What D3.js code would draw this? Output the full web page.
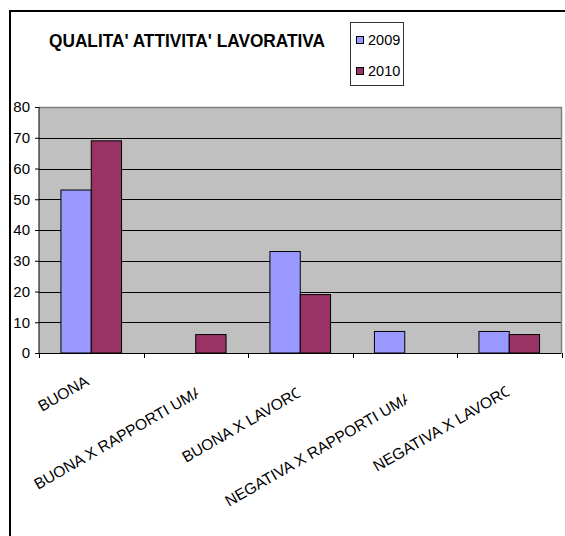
<!DOCTYPE html>
<html>
<head>
<meta charset="utf-8">
<script src="https://cdn.jsdelivr.net/npm/d3@7"></script>
<style>
  html, body { margin: 0; padding: 0; background: #fff; }
  svg { display: block; font-family: "Liberation Sans", Arial, sans-serif; }
</style>
</head>
<body>
<svg id="chart" width="565" height="536"></svg>
<script>
// ---- data ----
const title = "QUALITA' ATTIVITA' LAVORATIVA";
const categories = ["BUONA", "BUONA X RAPPORTI UMANI", "BUONA X LAVORO", "NEGATIVA X RAPPORTI UMANI", "NEGATIVA X LAVORO"];
const seriesNames = ["2009", "2010"];
const values2009 = [53, 0, 33, 7, 7];
const values2010 = [69, 6, 19, 0, 6];
const yTicks = [0, 10, 20, 30, 40, 50, 60, 70, 80];
const colors = ["#9999FF", "#993366"];

// ---- layout ----
const svg = d3.select("#chart");
const plot = { left: 39, right: 561.5, top: 107, bottom: 353 };

// outer frame (extends beyond the viewport)
svg.append("rect").attr("x", 10).attr("y", 11).attr("width", 700).attr("height", 700)
  .attr("fill", "none").attr("stroke", "#000").attr("stroke-width", 2);

const x0 = d3.scaleBand().domain(categories).range([plot.left, plot.right]).paddingInner(0).paddingOuter(0);
const bw = x0.bandwidth();
const x1 = d3.scaleBand().domain(seriesNames).range([bw * 0.21, bw * 0.79]).padding(0);
const y = d3.scaleLinear().domain([0, 80]).range([plot.bottom, plot.top]);

// plot background
svg.append("rect").attr("x", plot.left).attr("y", plot.top)
  .attr("width", plot.right - plot.left).attr("height", plot.bottom - plot.top)
  .attr("fill", "#C0C0C0");

// gridlines
svg.append("g").selectAll("line").data(yTicks.filter(t => t > 0 && t < 80)).join("line")
  .attr("x1", plot.left).attr("x2", plot.right)
  .attr("y1", d => Math.round(y(d)) + 0.5).attr("y2", d => Math.round(y(d)) + 0.5)
  .attr("stroke", "#000").attr("stroke-width", 1);

// plot border top/right (gray)
svg.append("path")
  .attr("d", `M${plot.left},${plot.top + 0.5}H${plot.right}V${plot.bottom}`)
  .attr("fill", "none").attr("stroke", "#808080").attr("stroke-width", 1.5);

// bars
const seriesData = [values2009, values2010];
const groups = svg.append("g").selectAll("g").data(categories).join("g")
  .attr("transform", d => `translate(${x0(d)},0)`);
groups.selectAll("rect")
  .data((c, i) => seriesNames.map((s, k) => ({ s, k, v: seriesData[k][i] })).filter(d => d.v > 0))
  .join("rect")
  .attr("x", d => x1(d.s))
  .attr("y", d => y(d.v))
  .attr("width", x1.bandwidth())
  .attr("height", d => y(0) - y(d.v))
  .attr("fill", d => colors[d.k])
  .attr("stroke", "#000").attr("stroke-width", 1);

// y axis
const yAxis = d3.axisLeft(y).tickValues(yTicks).tickSize(4).tickPadding(5).tickFormat(d3.format("d"));
const gy = svg.append("g").attr("transform", `translate(${plot.left},0)`).call(yAxis);
gy.select(".domain").attr("stroke", "#000").attr("d", `M0,${plot.top}V${plot.bottom}`);
gy.selectAll(".tick line").attr("stroke", "#000");
gy.selectAll(".tick text").attr("font-size", 15).attr("fill", "#000")
  .attr("font-family", "Liberation Sans, Arial, sans-serif");

// x axis line + ticks at category boundaries
const gx = svg.append("g");
gx.append("line").attr("x1", plot.left).attr("x2", plot.right)
  .attr("y1", plot.bottom + 0.5).attr("y2", plot.bottom + 0.5).attr("stroke", "#000");
const bounds = categories.map(c => x0(c)).concat([x0(categories[categories.length - 1]) + bw]);
gx.selectAll("line.tk").data(bounds).join("line").attr("class", "tk")
  .attr("x1", d => Math.round(d) + 0.5).attr("x2", d => Math.round(d) + 0.5)
  .attr("y1", plot.bottom).attr("y2", plot.bottom + 5).attr("stroke", "#000");

// rotated, clipped category labels (long ones are cut off as in the original)
const angle = -30;
const labelStart = [[42, 412], [38, 490], [186, 463], [229, 507], [377, 472]];
// number of visible characters and the visible fraction of the last one
const labelVisible = [[5, 1], [20, 0.5], [14, 0.6], [23, 0.5], [17, 0.6]];
const defs = svg.append("defs");
categories.forEach((c, i) => {
  const g = svg.append("g")
    .attr("transform", `translate(${labelStart[i][0]},${labelStart[i][1]}) rotate(${angle})`);
  const cg = g.append("g").attr("clip-path", `url(#lc${i})`);
  const t = cg.append("text").attr("x", 0).attr("y", 0)
    .attr("font-size", 15.6).attr("fill", "#000").text(c);
  const [n, frac] = labelVisible[i];
  const node = t.node();
  const pre = n > 1 ? node.getSubStringLength(0, n - 1) : 0;
  const full = node.getSubStringLength(0, n);
  const clipW = pre + frac * (full - pre);
  defs.append("clipPath").attr("id", "lc" + i).attr("clipPathUnits", "userSpaceOnUse")
    .append("rect").attr("x", -5).attr("y", -30).attr("width", clipW + 5).attr("height", 40);
});

// title
svg.append("text").attr("x", 49).attr("y", 47)
  .attr("font-size", 17.5).attr("font-weight", "bold").attr("fill", "#000")
  .attr("textLength", 276).attr("lengthAdjust", "spacingAndGlyphs").text(title);

// legend
const lg = svg.append("g");
lg.append("rect").attr("x", 350.5).attr("y", 22.5).attr("width", 53).attr("height", 63)
  .attr("fill", "#fff").attr("stroke", "#333").attr("stroke-width", 1);
seriesNames.forEach((s, k) => {
  const cy = 40 + k * 31;
  lg.append("rect").attr("x", 356.5).attr("y", cy - 3.5).attr("width", 7).attr("height", 7)
    .attr("fill", colors[k]).attr("stroke", "#000");
  lg.append("text").attr("x", 368).attr("y", cy + 5).attr("font-size", 14.5).attr("fill", "#000").text(s);
});
</script>
</body>
</html>
